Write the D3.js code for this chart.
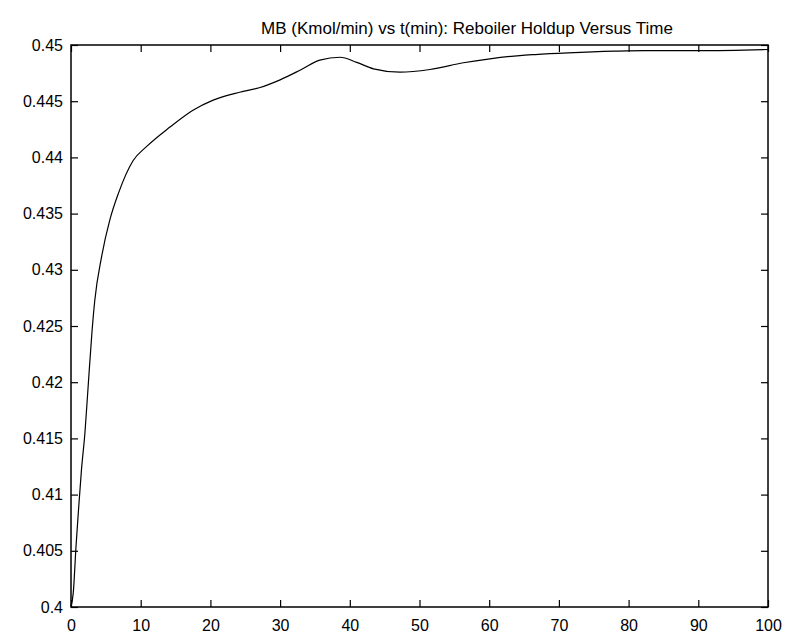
<!DOCTYPE html>
<html>
<head>
<meta charset="utf-8">
<script src="https://cdn.jsdelivr.net/npm/d3@7"></script>
<style>
  html, body { margin: 0; padding: 0; background: #fff; }
  svg { display: block; }
  text { font-family: "Liberation Sans", Arial, sans-serif; fill: #000; }
</style>
</head>
<body>
<svg id="chart" width="787" height="639"></svg>
<script>
const titleText = "MB (Kmol/min) vs t(min): Reboiler Holdup Versus Time";
const timeMin = [0, 0.33, 0.72, 1.05, 1.5, 2.0, 2.5, 3.0, 3.4, 4.4, 5.6, 6.8, 8.9, 10.9, 14.2, 17.5, 20.4, 24.2, 27, 30, 33, 35.7, 38.6, 41, 43.4, 47.2, 51.5, 56.3, 60.1, 64.4, 66.6, 71.3, 78, 82.4, 90.2, 100];
const holdup  = [0.4, 0.4013, 0.4054, 0.4084, 0.4122, 0.4155, 0.4200, 0.4244, 0.4272, 0.4312, 0.4345, 0.4368, 0.4397, 0.4410, 0.4427, 0.4442, 0.4451, 0.4458, 0.4462, 0.4469, 0.4478, 0.44865, 0.44891, 0.44845, 0.44788, 0.44758, 0.44782, 0.44842, 0.44877, 0.44906, 0.44915, 0.4493, 0.44945, 0.4495, 0.4495, 0.4496];
const xTicks = [0, 10, 20, 30, 40, 50, 60, 70, 80, 90, 100];
const yTicks = [0.4, 0.405, 0.41, 0.415, 0.42, 0.425, 0.43, 0.435, 0.44, 0.445, 0.45];

const svg = d3.select("#chart");
const L = 71, R = 768, T = 45, B = 607;

const x = d3.scaleLinear().domain([0, 100]).range([L, R]);
const y = d3.scaleLinear().domain([0.4, 0.45]).range([B, T]);

// curve
const line = d3.line()
  .x((d, i) => x(timeMin[i]))
  .y((d, i) => y(holdup[i]))
  .curve(d3.curveMonotoneX);

svg.append("path")
  .datum(holdup)
  .attr("d", line)
  .attr("fill", "none")
  .attr("stroke", "#000")
  .attr("stroke-width", 1.2);

const tickLen = 7;
const fmtY = d => d3.format("")(+d.toFixed(3));

// bottom axis (ticks inward)
const axB = svg.append("g").attr("transform", `translate(0,${B})`)
  .call(d3.axisBottom(x).tickValues(xTicks).tickSizeInner(-tickLen).tickSizeOuter(0).tickPadding(13).tickFormat(d3.format("d")));
// top axis ticks
const axT = svg.append("g").attr("transform", `translate(0,${T})`)
  .call(d3.axisTop(x).tickValues(xTicks).tickSizeInner(-tickLen).tickSizeOuter(0).tickFormat(""));
// left axis
const axL = svg.append("g").attr("transform", `translate(${L},0)`)
  .call(d3.axisLeft(y).tickValues(yTicks).tickSizeInner(-tickLen).tickSizeOuter(0).tickPadding(8).tickFormat(fmtY));
// right axis ticks
const axR = svg.append("g").attr("transform", `translate(${R},0)`)
  .call(d3.axisRight(y).tickValues(yTicks).tickSizeInner(-tickLen).tickSizeOuter(0).tickFormat(""));

[axB, axT, axL, axR].forEach(g => {
  g.select(".domain").remove();
  g.selectAll(".tick line").attr("stroke", "#000").attr("stroke-width", 1.2);
  g.selectAll("text").attr("font-size", 16).attr("font-family", "'Liberation Sans', Arial, sans-serif").attr("fill", "#000");
});

// box
svg.append("rect")
  .attr("x", L).attr("y", T)
  .attr("width", R - L).attr("height", B - T)
  .attr("fill", "none").attr("stroke", "#000").attr("stroke-width", 1.5);

// title
svg.append("text")
  .attr("x", 467).attr("y", 34)
  .attr("text-anchor", "middle")
  .attr("font-size", 17)
  .text(titleText);
</script>
</body>
</html>
